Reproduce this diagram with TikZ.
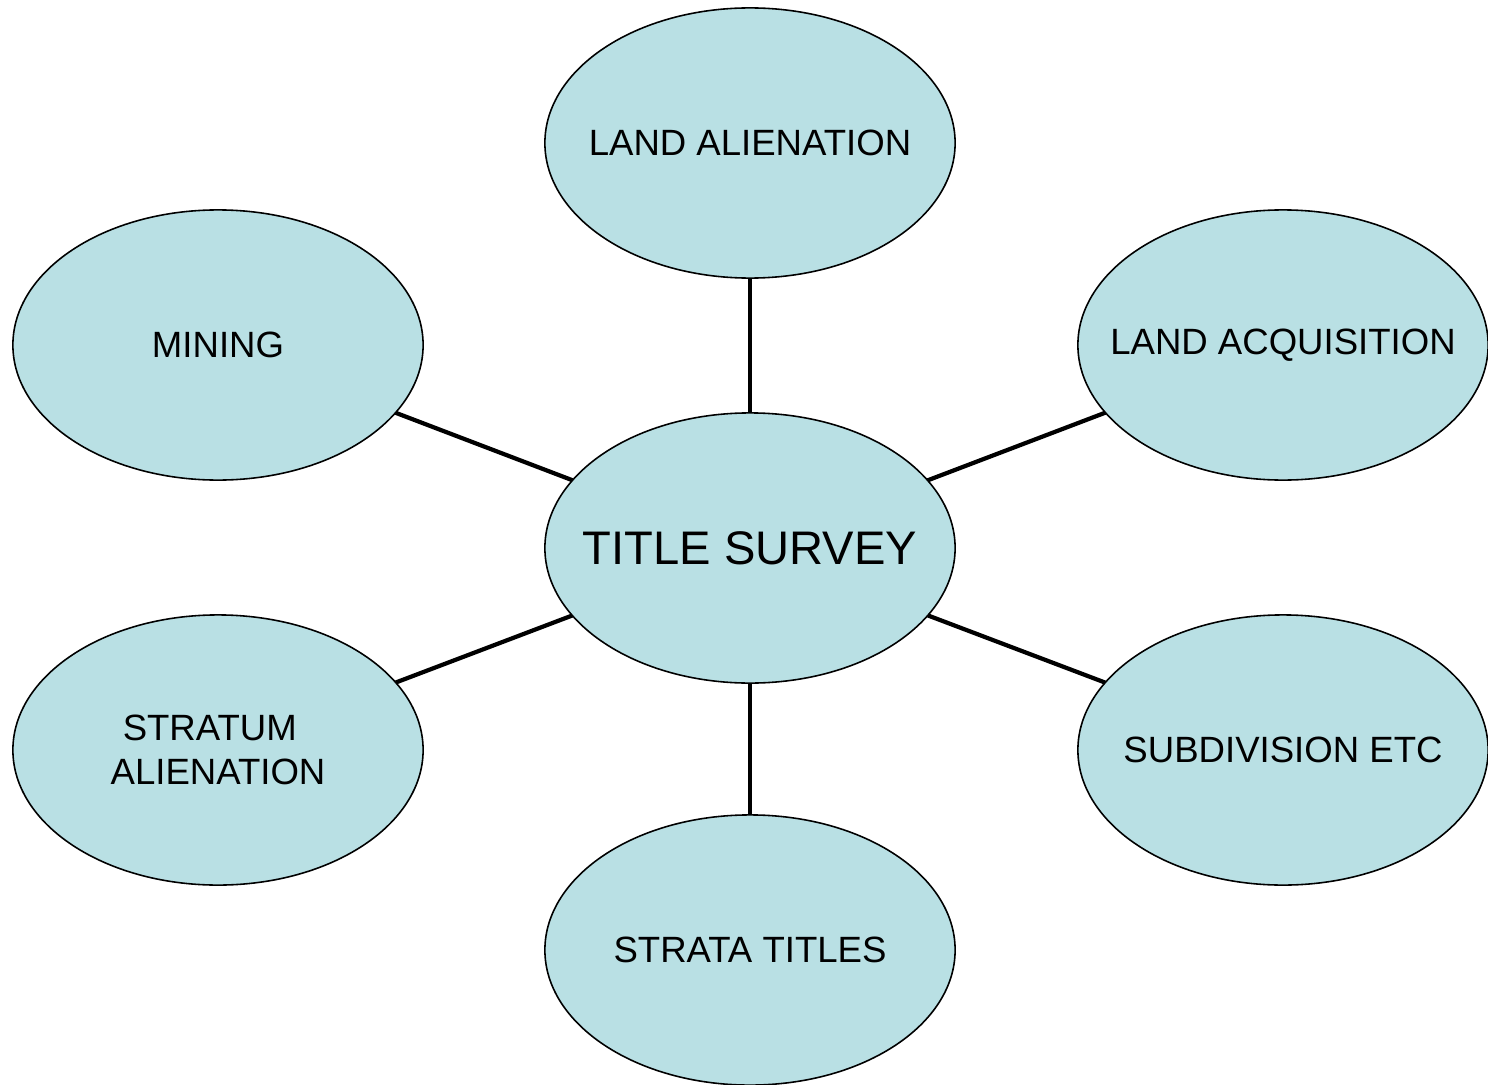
\documentclass[tikz,border=0pt]{standalone}
\usepackage{fontspec}
\setmainfont{Liberation Sans}
\usetikzlibrary{shapes.geometric}
\definecolor{bubblefill}{RGB}{185,224,228}
\newcommand{\zb}[1]{\makebox[0pt][c]{#1}}
\begin{document}
\begin{tikzpicture}[x=0.01cm,y=-0.01cm,
  bubble/.style={ellipse,draw=black,line width=0.45pt,fill=bubblefill,
    minimum width=4.1cm,minimum height=2.7cm,inner sep=0pt,outer sep=0pt,align=center,
    font=\fontsize{10.4}{12.6}\selectfont},
  hub/.style={bubble,font=\fontsize{13.4}{16}\selectfont},
  link/.style={line width=1.2pt,draw=black}]
\useasboundingbox (0,0) rectangle (1488,1085);
\node[hub] (c) at (750,548) {\zb{TITLE SURVEY}};
\node[bubble] (la) at (750,143) {\zb{LAND ALIENATION}};
\node[bubble] (mi) at (218,345) {\zb{MINING}};
\node[bubble] (aq) at (1283,345) {\zb{LAND ACQUISITION}};
\node[bubble] (sa) at (218,750) {\zb{STRATUM\hspace{0.45em}}\\\zb{ALIENATION}};
\node[bubble] (sd) at (1283,750) {\zb{SUBDIVISION ETC}};
\node[bubble] (st) at (750,950) {\zb{STRATA TITLES}};
\draw[link] (c) -- (la);
\draw[link] (c) -- (mi);
\draw[link] (c) -- (aq);
\draw[link] (c) -- (sa);
\draw[link] (c) -- (sd);
\draw[link] (c) -- (st);
\end{tikzpicture}
\end{document}
